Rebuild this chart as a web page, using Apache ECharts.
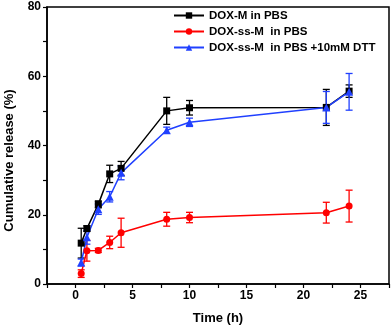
<!DOCTYPE html>
<html>
<head>
<meta charset="utf-8">
<script src="https://cdn.jsdelivr.net/npm/echarts@6/dist/echarts.min.js"></script>
<style>
  html, body { margin: 0; padding: 0; background: #fff; }
  #chart { width: 392px; height: 329px; }
</style>
</head>
<body>
<div id="chart"></div>
<script>
// time points (h)
var times = [0.5, 1, 2, 3, 4, 8, 10, 22, 24];

// DOX-M in PBS
var doxM = [11.8, 16.0, 23.0, 31.8, 33.4, 50.0, 50.9, 51.0, 55.7];
var doxMErr = [4.3, 0.8, 1.0, 2.5, 2.0, 3.9, 2.1, 5.2, 1.8];

// DOX-ss-M in PBS
var doxSS = [3.0, 9.6, 9.7, 12.0, 14.8, 18.7, 19.2, 20.6, 22.5];
var doxSSErr = [1.1, 3.0, 0.6, 1.8, 4.2, 2.0, 1.5, 3.0, 4.6];

// DOX-ss-M in PBS +10mM DTT
var doxDTT = [6.2, 13.5, 21.6, 25.2, 32.1, 44.4, 46.7, 51.0, 55.5];
var doxDTTErr = [1.0, 2.0, 1.5, 1.5, 2.0, 0.9, 1.2, 4.6, 5.3];

var names = ['DOX-M in PBS', 'DOX-ss-M  in PBS', 'DOX-ss-M  in PBS +10mM DTT'];
var colors = ['#000000', '#ff0000', '#2040ff'];

var FONT = '"Liberation Sans", Arial, sans-serif';

function pairs(ys) {
  return times.map(function (t, i) { return [t, ys[i]]; });
}

function errData(ys, errs) {
  return times.map(function (t, i) { return [t, ys[i] - errs[i], ys[i] + errs[i]]; });
}

function errSeries(ys, errs, color) {
  return {
    type: 'custom',
    data: errData(ys, errs),
    z: 1,
    silent: true,
    renderItem: function (params, api) {
      var lo = api.coord([api.value(0), api.value(1)]);
      var hi = api.coord([api.value(0), api.value(2)]);
      var cap = 3.5;
      var st = { stroke: color, lineWidth: 1.3 };
      return {
        type: 'group',
        children: [
          { type: 'line', shape: { x1: lo[0], y1: lo[1], x2: hi[0], y2: hi[1] }, style: st },
          { type: 'line', shape: { x1: lo[0] - cap, y1: lo[1], x2: lo[0] + cap, y2: lo[1] }, style: st },
          { type: 'line', shape: { x1: hi[0] - cap, y1: hi[1], x2: hi[0] + cap, y2: hi[1] }, style: st }
        ]
      };
    }
  };
}

function lineSeries(i, ys, symbol, size) {
  return {
    name: names[i],
    type: 'line',
    data: pairs(ys),
    symbol: symbol,
    symbolSize: size,
    z: 3,
    color: colors[i],
    lineStyle: { color: colors[i], width: 1.5 },
    itemStyle: { color: colors[i] }
  };
}

var chart = echarts.init(document.getElementById('chart'));

var option = {
  backgroundColor: '#fff',
  animation: false,
  grid: {
    left: 47, right: 3, top: 7, bottom: 45,
    outerBoundsMode: 'none',
    containLabel: false,
    show: true, borderColor: '#000', borderWidth: 1.5
  },
  legend: {
    orient: 'vertical',
    left: 168, top: 4,
    itemWidth: 30, itemHeight: 8,
    itemGap: 3,
    data: names,
    textStyle: { fontFamily: FONT, fontWeight: 'bold', fontSize: 11.5, color: '#000', lineHeight: 13 }
  },
  xAxis: {
    type: 'value',
    min: -2.5, max: 27.5, interval: 2.5,
    name: 'Time (h)',
    nameLocation: 'middle',
    nameGap: 28,
    nameTextStyle: { fontFamily: FONT, fontWeight: 'bold', fontSize: 13, color: '#000' },
    splitLine: { show: false },
    axisLine: { onZero: false, lineStyle: { color: '#000', width: 1.5 } },
    axisTick: { inside: false, length: 4, lineStyle: { color: '#000', width: 1.2 } },
    axisLabel: {
      fontFamily: FONT, fontWeight: 'bold', fontSize: 12, color: '#000', margin: 6,
      formatter: function (v) { return (v % 5 === 0 && v >= 0 && v <= 25) ? String(v) : ''; }
    }
  },
  yAxis: {
    type: 'value',
    min: 0, max: 80, interval: 10,
    name: 'Cumulative release (%)',
    nameLocation: 'middle',
    nameGap: 31,
    nameTextStyle: { fontFamily: FONT, fontWeight: 'bold', fontSize: 13, color: '#000', padding: [0, 30, 0, 0] },
    splitLine: { show: false },
    axisLine: { onZero: false, lineStyle: { color: '#000', width: 1.5 } },
    axisTick: { inside: false, length: 4, lineStyle: { color: '#000', width: 1.2 } },
    axisLabel: {
      fontFamily: FONT, fontWeight: 'bold', fontSize: 12, color: '#000', margin: 6,
      formatter: function (v) { return v % 20 === 0 ? String(v) : ''; }
    }
  },
  series: [
    errSeries(doxM, doxMErr, colors[0]),
    errSeries(doxSS, doxSSErr, colors[1]),
    errSeries(doxDTT, doxDTTErr, colors[2]),
    lineSeries(0, doxM, 'rect', 7),
    lineSeries(1, doxSS, 'circle', 7),
    lineSeries(2, doxDTT, 'triangle', 8)
  ]
};

chart.setOption(option);
</script>
</body>
</html>
